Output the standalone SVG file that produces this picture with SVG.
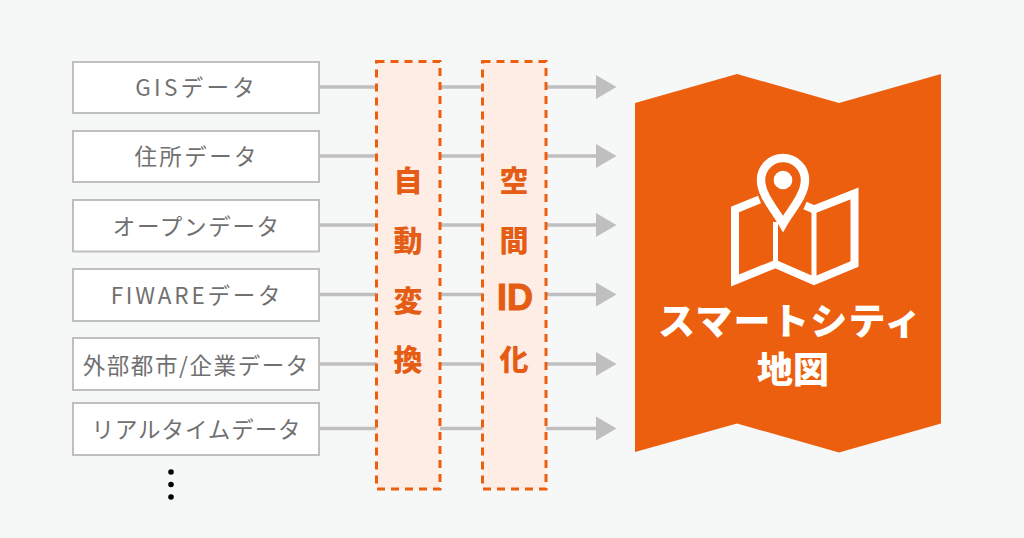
<svg xmlns="http://www.w3.org/2000/svg" width="1024" height="538" viewBox="0 0 1024 538">
<style>
.src rect{fill:#fff;stroke:#bfbfbf;stroke-width:2}
.src text{font-family:"Noto Sans CJK JP","Noto Sans",sans-serif;font-size:22.5px;fill:#707070;text-anchor:middle;font-weight:400}
.conn line{stroke:#bfbfbf;stroke-width:3.5}
.conn polygon{fill:#bfbfbf}
.proc rect{fill:#feede4;stroke:#ec5f0e;stroke-width:3;stroke-dasharray:8 6}
.proc text{font-family:"Noto Sans CJK JP",sans-serif;font-size:29px;font-weight:900;fill:#e55c14;text-anchor:middle}
.proc text.latin{font-family:"Liberation Sans",sans-serif;font-size:36px;font-weight:700;stroke:#e55c14;stroke-width:1}
.ttl{font-family:"Noto Sans CJK JP",sans-serif;font-size:37px;font-weight:900;fill:#fff;text-anchor:middle}
</style>
<rect width="1024" height="538" fill="#f6f8f8"/>
<g id="connectors" class="conn">
<line x1="319" y1="87" x2="597" y2="87"/><polygon points="596,75 616.500,87 596,99"/>
<line x1="319" y1="156" x2="597" y2="156"/><polygon points="596,144 616.500,156 596,168"/>
<line x1="319" y1="225" x2="597" y2="225"/><polygon points="596,213 616.500,225 596,237"/>
<line x1="319" y1="294.500" x2="597" y2="294.500"/><polygon points="596,282.500 616.500,294.500 596,306.500"/>
<line x1="319" y1="364" x2="597" y2="364"/><polygon points="596,352 616.500,364 596,376"/>
<line x1="319" y1="428.500" x2="597" y2="428.500"/><polygon points="596,416.500 616.500,428.500 596,440.500"/>
</g>
<g id="src-gis" class="src"><rect x="73" y="62" width="246" height="51"/><text x="196.700" y="96" letter-spacing="3.300">GISデータ</text></g>
<g id="src-address" class="src"><rect x="73" y="131" width="246" height="51"/><text x="196.700" y="165" letter-spacing="2.400">住所データ</text></g>
<g id="src-open" class="src"><rect x="73" y="200" width="246" height="51.500"/><text x="196.800" y="235" letter-spacing="1.700">オープンデータ</text></g>
<g id="src-fiware" class="src"><rect x="73" y="269" width="246" height="52"/><text x="197" y="304" letter-spacing="2.800">FIWAREデータ</text></g>
<g id="src-external" class="src"><rect x="73" y="338" width="246" height="52"/><text x="196.300" y="374" letter-spacing="1.600">外部都市/企業データ</text></g>
<g id="src-realtime" class="src"><rect x="73" y="403" width="246" height="52"/><text x="196.500" y="438" letter-spacing="0.900">リアルタイムデータ</text></g>
<g id="more" fill="#000"><circle cx="171" cy="472" r="2.800"/><circle cx="171" cy="484.500" r="2.800"/><circle cx="171" cy="497" r="2.800"/></g>
<g id="auto-convert" class="proc"><rect x="376.500" y="61.500" width="63.500" height="427.500"/>
<text x="408" y="192">自</text><text x="408" y="252">動</text><text x="408" y="312">変</text><text x="408" y="371">換</text></g>
<g id="spatial-id" class="proc"><rect x="482.500" y="61.500" width="63.500" height="427.500"/>
<text x="514" y="192">空</text><text x="514" y="252">間</text><text class="latin" x="515" y="310">ID</text><text x="514" y="371">化</text></g>
<g id="smart-city-map">
<polygon points="635,103 737,74 839,103 941,74 941,423.500 839,452.500 737,423.500 635,452" fill="#ec5f0e"/>
<g fill="none" stroke="#fff">
<path d="M759.500 199.500 735 209.500V280.500L775.500 264 814 281 854.500 264V193.500L814 209.500 805 205.500" stroke-width="8"/>
<path d="M775.500 222V265M814 208V281" stroke-width="5"/>
<path d="M783 224C775 210 761 195 761 180A22 22 0 0 1 805 180C805 195 791 210 783 224Z" stroke-width="8.500" fill="#ec5f0e"/>
</g>
<circle cx="783" cy="180" r="9.300" fill="#fff"/>
<text class="ttl" x="790.500" y="335" letter-spacing="1.300">スマートシティ</text>
<text class="ttl" x="793" y="383" style="font-size:36px">地図</text>
</g>
</svg>
